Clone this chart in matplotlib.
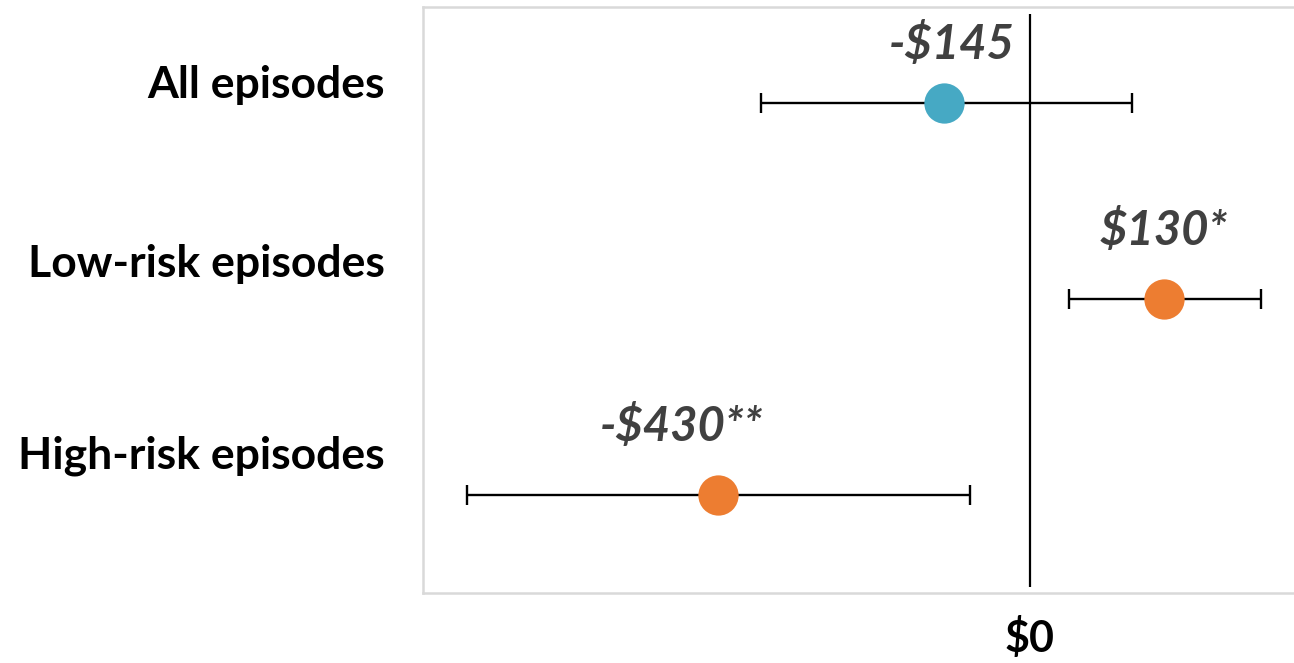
import matplotlib
matplotlib.use("Agg")
import matplotlib.pyplot as plt
import matplotlib.transforms as mtransforms

# data (x positions, in dollars)
categories = ["All episodes", "Low-risk episodes", "High-risk episodes"]
estimates = [-118, 185, -430]
ci_low = [-371, 54, -776]
ci_high = [141, 319, -82]
value_labels = ["-$145", "$130*", "-$430**"]
colors = ["#46A9C4", "#ED7D31", "#ED7D31"]

plt.rcParams['font.family'] = ['Lato', 'DejaVu Sans']

fig = plt.figure(figsize=(12.94, 6.63), dpi=100)
ax = fig.add_axes([0.327, 0.1056, 0.675, 0.8838])

rows = list(range(len(categories)))

ax.vlines(0, -0.455, 2.47, color="black", lw=1.6, zorder=1)

for i in rows:
    ax.errorbar(estimates[i], i,
                xerr=[[estimates[i] - ci_low[i]], [ci_high[i] - estimates[i]]],
                fmt="none", ecolor="black", elinewidth=1.7, capsize=7, capthick=1.7, zorder=2)
    ax.plot(estimates[i], i, "o", color=colors[i], markersize=29, mec="none", zorder=3)

# value labels above the points
lab_dx = [10, 0, -50]
lab_dy = [-0.30, -0.35, -0.35]
for i in rows:
    ax.text(estimates[i] + lab_dx[i], i + lab_dy[i], value_labels[i], ha="center", va="center",
            fontsize=34, fontweight="bold", style="italic", color="#404040")

# category labels on the left
cat_y = [-0.09, 0.82, 1.8]
trans = mtransforms.blended_transform_factory(fig.transFigure, ax.transData)
for i in rows:
    ax.text(385 / 1294, cat_y[i], categories[i], transform=trans, ha="right", va="center",
            fontsize=32, fontweight="bold", color="black")

ax.set_xlim(-837, 368)
ax.set_ylim(2.5, -0.49)
ax.set_yticks([])
ax.set_xticks([0])
ax.set_xticklabels(["$0"], fontsize=31, fontweight="bold")
ax.tick_params(axis="x", length=0, pad=17)

for s in ["top", "left", "bottom"]:
    ax.spines[s].set_color("#D9D9D9")
    ax.spines[s].set_linewidth(1.8)
ax.spines["right"].set_visible(False)

fig.savefig("out.png", dpi=100)
